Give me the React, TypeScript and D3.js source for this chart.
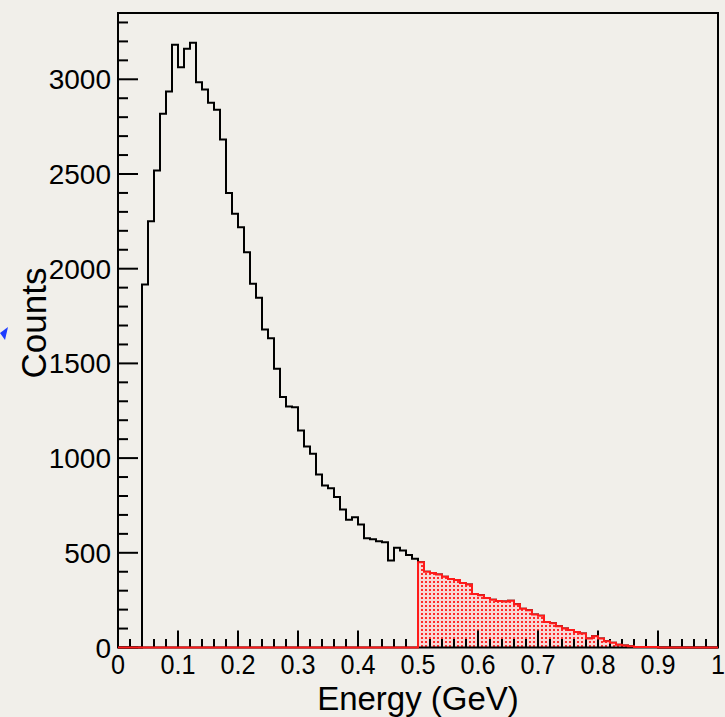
import React from "react";
import * as d3 from "d3";

// ---- data ----
const binEdgesMin = 0;
const binEdgesMax = 1;
const nBins = 100;
const counts: number[] = [
  0, 0, 0, 0, 1917, 2251, 2519, 2818, 2936, 3182,
  3064, 3161, 3193, 2985, 2946, 2876, 2839, 2682, 2399, 2290,
  2219, 2087, 1920, 1846, 1679, 1633, 1472, 1322, 1272, 1269,
  1146, 1061, 1023, 913, 855, 841, 794, 729, 674, 688,
  649, 577, 572, 561, 556, 459, 526, 512, 489, 468,
  450, 400, 393, 386, 374, 362, 356, 340, 332, 283,
  276, 262, 252, 246, 243, 247, 228, 204, 197, 174,
  168, 135, 128, 112, 100, 93, 82, 74, 48, 60,
  48, 33, 25, 15, 11, 7, 3, 2, 3, 2,
  0, 0, 0, 0, 0, 0, 0, 0, 0, 0,
];
const cutEnergy = 0.5;
const xTickLabels = ["0", "0.1", "0.2", "0.3", "0.4", "0.5", "0.6", "0.7", "0.8", "0.9", "1"];
const yTickLabels = ["0", "500", "1000", "1500", "2000", "2500", "3000"];
const yMax = 3350;
const xTitle = "Energy (GeV)";
const yTitle = "Counts";

// ---- layout ----
const W = 725;
const H = 717;
const L = 118;
const R = 718;
const T = 13;
const B = 647.5;
const FONT = "'Liberation Sans', Arial, Helvetica, sans-serif";

export default function App() {
  const x = d3.scaleLinear().domain([binEdgesMin, binEdgesMax]).range([L, R]);
  const y = d3.scaleLinear().domain([0, yMax]).range([B, T]);
  const bw = (binEdgesMax - binEdgesMin) / nBins;

  const stepPath = (vals: number[]) => {
    const p = d3.path();
    p.moveTo(x(binEdgesMin), y(0));
    vals.forEach((v, i) => {
      const lo = binEdgesMin + i * bw;
      const hi = lo + bw;
      p.lineTo(x(lo), y(v));
      p.lineTo(x(hi), y(v));
    });
    p.lineTo(x(binEdgesMax), y(0));
    return p.toString();
  };

  const redVals = counts.map((v, i) => (binEdgesMin + i * bw >= cutEnergy - 1e-9 ? v : 0));
  const blackPath = stepPath(counts);
  const redPath = stepPath(redVals);
  const redFill = redPath + "Z";

  const xMinor = d3.range(0, 51).map((i) => i * 0.02);
  const yMinor = d3.range(0, 34).map((i) => i * 100);

  return (
    <svg
      width={W}
      height={H}
      style={{ position: "absolute", left: 0, top: 0, background: "#f1efea" }}
    >
      <defs>
        <pattern id="dots" width={4} height={4} patternUnits="userSpaceOnUse">
          <rect x={0} y={0} width={4} height={4} fill="#f8d8d6" />
          <rect x={1} y={1} width={2} height={2} fill="#ff2a2a" />
        </pattern>
      </defs>
      <rect x={0} y={0} width={W} height={H} fill="#f1efea" />
      {/* blue mark at left edge */}
      <polygon points="0,333 8,327 5,340" fill="#1e3cff" />

      {/* black histogram */}
      <path d={blackPath} fill="none" stroke="#000" strokeWidth={2} strokeLinejoin="miter" />
      {/* red fill */}
      <path d={redFill} fill="url(#dots)" stroke="none" />

      {/* ticks */}
      {xMinor.map((v, i) => (
        <line
          key={"xt" + i}
          x1={x(v)}
          x2={x(v)}
          y1={B}
          y2={B - (i % 5 === 0 ? 17 : 8.5)}
          stroke="#000"
          strokeWidth={2}
        />
      ))}
      {yMinor.map((v, i) => (
        <line
          key={"yt" + i}
          x1={L}
          x2={L + (v % 500 === 0 ? 20 : 10)}
          y1={y(v)}
          y2={y(v)}
          stroke="#000"
          strokeWidth={2}
        />
      ))}
      {/* frame */}
      <rect x={L} y={T} width={R - L} height={B - T} fill="none" stroke="#000" strokeWidth={2} />

      {/* red outline */}
      <path d={redPath} fill="none" stroke="#ff1a1a" strokeWidth={2} />

      {/* tick labels */}
      {xTickLabels.map((t) => (
        <text
          key={"xl" + t}
          transform={`translate(${x(+t)},674) scale(0.9,1)`}
          textAnchor="middle"
          fontFamily={FONT}
          fontSize={28}
          fill="#000"
        >
          {t}
        </text>
      ))}
      {yTickLabels.map((t) => (
        <text
          key={"yl" + t}
          x={111}
          y={y(+t) + 10}
          textAnchor="end"
          fontFamily={FONT}
          fontSize={28}
          fill="#000"
        >
          {t}
        </text>
      ))}

      {/* axis titles */}
      <text
        x={(L + R) / 2}
        y={710}
        textAnchor="middle"
        fontFamily={FONT}
        fontSize={33}
        fill="#000"
      >
        {xTitle}
      </text>
      <text
        transform={`translate(46,${323}) rotate(-90)`}
        textAnchor="middle"
        fontFamily={FONT}
        fontSize={35}
        fill="#000"
      >
        {yTitle}
      </text>
    </svg>
  );
}
